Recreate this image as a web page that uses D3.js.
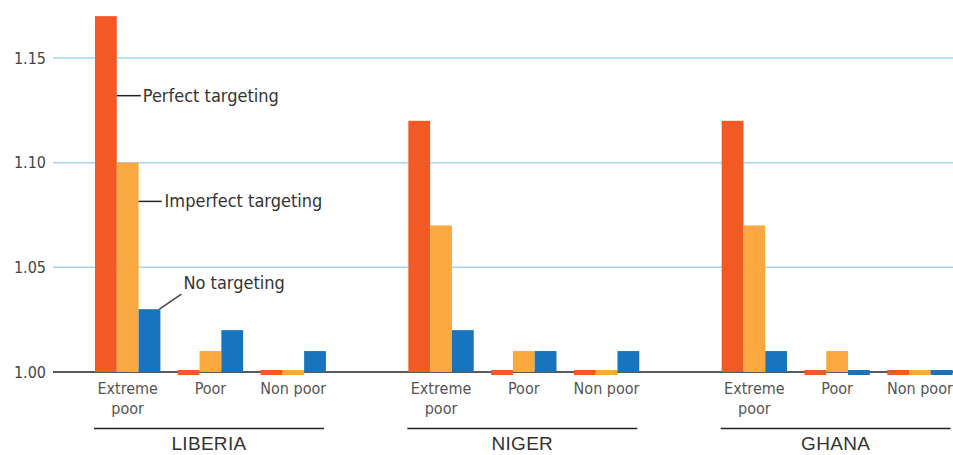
<!DOCTYPE html>
<html>
<head>
<meta charset="utf-8">
<script src="https://cdn.jsdelivr.net/npm/d3@7"></script>
<style>
  html, body { margin: 0; padding: 0; background: #fff; }
  svg { display: block; }
  text { font-family: "Liberation Sans Narrow", "DejaVu Sans Condensed", "Liberation Sans", sans-serif; }
</style>
</head>
<body>
<svg id="chart" width="953" height="455"></svg>
<script>
const countries = ["LIBERIA", "NIGER", "GHANA"];
const categories = ["Extreme poor", "Poor", "Non poor"];
const series = ["Perfect targeting", "Imperfect targeting", "No targeting"];
const perfectTargeting = [1.17, 1.00, 1.00, 1.12, 1.00, 1.00, 1.12, 1.00, 1.00];
const imperfectTargeting = [1.10, 1.01, 1.00, 1.07, 1.01, 1.00, 1.07, 1.01, 1.00];
const noTargeting = [1.03, 1.02, 1.01, 1.02, 1.01, 1.01, 1.01, 1.00, 1.00];
const yTicks = [1.00, 1.05, 1.10, 1.15];
const colors = ["#F15A25", "#F9A93F", "#1874BC"];

const seriesValues = [perfectTargeting, imperfectTargeting, noTargeting];
const data = [];
countries.forEach((c, ci) => categories.forEach((cat, ki) => series.forEach((s, si) => {
  data.push({ country: c, category: cat, series: s, si, value: seriesValues[si][ci * 3 + ki] });
})));

const svg = d3.select("#chart");
const y = d3.scaleLinear().domain([1.0, 1.15]).range([372, 58]);
const xCountry = d3.scaleBand().domain(countries).range([95, 952.6]).paddingInner(0.263).paddingOuter(0);
const xCat = d3.scaleBand().domain(categories).range([0, xCountry.bandwidth()]).paddingInner(0.21).paddingOuter(0);
const xSer = d3.scaleBand().domain(series).range([0, xCat.bandwidth()]).padding(0);

// gridlines
svg.append("g").selectAll("line").data(yTicks.filter(t => t > 1.0)).join("line")
  .attr("x1", 53).attr("x2", 953)
  .attr("y1", d => y(d)).attr("y2", d => y(d))
  .attr("stroke", "#9fd6f2").attr("stroke-width", 1.5);

// y axis labels
const yAxis = d3.axisLeft(y).tickValues(yTicks).tickFormat(d3.format(".2f")).tickSize(0).tickPadding(0);
const ya = svg.append("g").attr("transform", "translate(46,0)").call(yAxis);
ya.select(".domain").remove();
ya.selectAll("text").attr("font-size", 16).attr("fill", "#444")
  .style("font-family", '"Liberation Sans Narrow", "DejaVu Sans Condensed", sans-serif');

// baseline
svg.append("line").attr("x1", 53).attr("x2", 953).attr("y1", y(1.0)).attr("y2", y(1.0))
  .attr("stroke", "#222").attr("stroke-width", 1.5);

// bars
const stub = 5;
svg.append("g").selectAll("rect").data(data).join("rect")
  .attr("x", d => xCountry(d.country) + xCat(d.category) + xSer(d.series))
  .attr("width", xSer.bandwidth())
  .attr("y", d => d.value > 1.0 ? y(d.value) : y(1.0) - stub / 2 + 0.5)
  .attr("height", d => d.value > 1.0 ? y(1.0) - y(d.value) : stub)
  .attr("fill", d => colors[d.si]);

// category labels
const catG = svg.append("g");
countries.forEach(c => categories.forEach(cat => {
  const cx = xCountry(c) + xCat(cat) + xCat.bandwidth() / 2;
  const lines = cat === "Extreme poor" ? ["Extreme", "poor"] : [cat];
  lines.forEach((ln, i) => {
    catG.append("text").attr("x", cx).attr("y", 394 + i * 20)
      .attr("text-anchor", "middle").attr("font-size", 16).attr("fill", "#555").text(ln);
  });
}));

// country brackets and labels
countries.forEach(c => {
  const x0 = xCountry(c) - 1, x1 = xCountry(c) + xCountry.bandwidth() - 2;
  svg.append("line").attr("x1", x0).attr("x2", x1).attr("y1", 428.5).attr("y2", 428.5)
    .attr("stroke", "#222").attr("stroke-width", 1.5);
  svg.append("text").attr("x", (x0 + x1) / 2).attr("y", 450).attr("text-anchor", "middle")
    .attr("font-size", 19).attr("letter-spacing", 0.3).attr("fill", "#333")
    .style("font-family", '"Liberation Sans", "DejaVu Sans", sans-serif').text(c);
});

// series annotations (Liberia, Extreme poor)
const c0 = countries[0], k0 = categories[0];
const barRight = s => xCountry(c0) + xCat(k0) + xSer(s) + xSer.bandwidth();
const ann = svg.append("g");
// Perfect targeting
let yy = y(1.132);
ann.append("line").attr("x1", barRight(series[0])).attr("x2", barRight(series[0]) + 24)
  .attr("y1", yy).attr("y2", yy).attr("stroke", "#222").attr("stroke-width", 1.5);
ann.append("text").attr("x", barRight(series[0]) + 26).attr("y", yy + 6)
  .attr("font-size", 18).attr("fill", "#333").text(series[0]);
// Imperfect targeting
yy = y(1.0815);
ann.append("line").attr("x1", barRight(series[1])).attr("x2", barRight(series[1]) + 23)
  .attr("y1", yy).attr("y2", yy).attr("stroke", "#222").attr("stroke-width", 1.5);
ann.append("text").attr("x", barRight(series[1]) + 26).attr("y", yy + 6)
  .attr("font-size", 18).attr("fill", "#333").text(series[1]);
// No targeting
const nx = barRight(series[2]), ny = y(1.03);
ann.append("line").attr("x1", nx - 1).attr("y1", ny).attr("x2", nx + 21).attr("y2", ny - 15)
  .attr("stroke", "#444").attr("stroke-width", 1.5);
ann.append("text").attr("x", nx + 23).attr("y", y(1.0425) + 6)
  .attr("font-size", 18).attr("fill", "#333").text(series[2]);
</script>
</body>
</html>
